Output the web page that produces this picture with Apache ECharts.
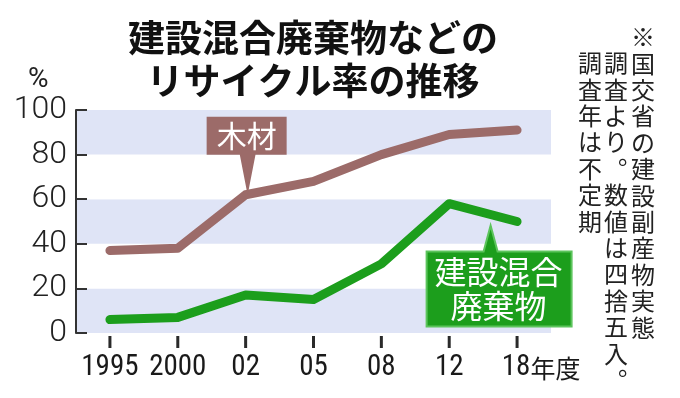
<!DOCTYPE html>
<html>
<head>
<meta charset="utf-8">
<script src="https://cdn.jsdelivr.net/npm/echarts@6/dist/echarts.min.js"></script>
<style>
  html, body { margin: 0; padding: 0; background: #fff; }
  #main { width: 680px; height: 398px; }
</style>
</head>
<body>
<div id="main"></div>
<script>
// 調査年度
const years = ['1995', '2000', '02', '05', '08', '12', '18'];
// リサイクル率 (%)
const wood = [37, 38, 62, 68, 80, 89, 91];
const mixed = [6, 7, 17, 15, 31, 58, 50];
const yTicks = [0, 20, 40, 60, 80, 100];

const titleText = '建設混合廃棄物などの\nリサイクル率の推移';
const noteCols = ['※国交省の建設副産物実態', '調査より。数値は四捨五入。', '調査年は不定期'];

const WOOD = '#9c6b69';
const GREEN = '#1c9e1c';
const jp = '"Noto Sans CJK JP", sans-serif';
const narrow = '"Liberation Sans Narrow", "Roboto Condensed", "DejaVu Sans Condensed", Roboto, sans-serif';

const chart = echarts.init(document.getElementById('main'));

chart.setOption({
    animation: false,
    backgroundColor: '#fff',
    title: {
        text: titleText,
        left: 308,
        top: 11,
        textAlign: 'center',
        textStyle: {fontFamily: jp, fontSize: 37, fontWeight: 'bold', color: '#111', lineHeight: 43}
    },
    grid: {left: 76, right: 129, top: 110, bottom: 65, outerBoundsMode: 'none', containLabel: false},
    xAxis: {
        type: 'category',
        data: years,
        boundaryGap: true,
        axisLine: {show: false},
        axisTick: {show: false},
        axisLabel: {
            interval: 0,
            hideOverlap: false,
            margin: 20,
            fontFamily: narrow,
            fontSize: 29,
            color: '#1a1a1a',
            formatter: (v, i) => i === years.length - 1 ? '{sp|}' + v + '{u|年度}' : v,
            rich: {
                sp: {width: 48},
                u: {fontFamily: jp, fontSize: 25, color: '#1a1a1a', padding: [2, 0, 0, 0]}
            }
        }
    },
    yAxis: {
        type: 'value',
        min: yTicks[0],
        max: yTicks[yTicks.length - 1],
        interval: 20,
        axisLine: {show: true, lineStyle: {color: '#333', width: 2}},
        axisTick: {show: true, inside: true, length: 11, lineStyle: {color: '#333', width: 2}},
        splitLine: {show: false},
        splitArea: {show: true, areaStyle: {color: ['#dfe4f6', '#ffffff']}},
        axisLabel: {margin: 9, fontFamily: 'Roboto, sans-serif', fontWeight: 300, fontSize: 32, color: '#222'}
    },
    series: [
        {
            name: '木材', type: 'line', data: wood, symbol: 'none',
            lineStyle: {color: WOOD, width: 9, cap: 'round', join: 'round'}
        },
        {
            name: '建設混合廃棄物', type: 'line', data: mixed, symbol: 'none',
            lineStyle: {color: GREEN, width: 9, cap: 'round', join: 'round'}
        }
    ]
});

// 吹き出しラベルと注記
function callout(tipX, tipY, x0, x1, y0, y1, up, fill, stroke) {
    const w = 7;
    const pts = up
        ? [[x0, y0], [tipX - w, y0], [tipX, tipY], [tipX + w, y0], [x1, y0], [x1, y1], [x0, y1]]
        : [[x0, y0], [x1, y0], [x1, y1], [tipX + w, y1], [tipX, tipY], [tipX - w, y1], [x0, y1]];
    return {type: 'polygon', shape: {points: pts}, style: {fill: fill, stroke: stroke, lineWidth: 2}, z: 10};
}

function drawNotes() {
    const p2 = chart.convertToPixel({seriesIndex: 0}, [2, wood[2]]);
    const p5 = chart.convertToPixel({seriesIndex: 1}, [5, mixed[5]]);
    const p6 = chart.convertToPixel({seriesIndex: 1}, [6, mixed[6]]);
    const gx = p5[0] + 0.61 * (p6[0] - p5[0]);
    const gy = p5[1] + 0.61 * (p6[1] - p5[1]) + 11;

    const woodTip = [p2[0] + 2, p2[1] - 5];
    const elements = [
        {type: 'text', left: 28, top: 66, style: {text: '%', fontFamily: 'Roboto, sans-serif', fontSize: 28, fill: '#222'}},
        callout(woodTip[0], woodTip[1], woodTip[0] - 40, woodTip[0] + 38, woodTip[1] - 72, woodTip[1] - 36, false, WOOD, WOOD),
        {type: 'text', x: woodTip[0] - 1, y: woodTip[1] - 54, z: 11,
            style: {text: '木材', fontFamily: jp, fontSize: 30, fill: '#fff', align: 'center', verticalAlign: 'middle'}},
        callout(gx, gy, gx - 64, gx + 81, gy + 26, gy + 101, true, GREEN, '#5cc45c'),
        {type: 'text', x: gx + 8, y: gy + 63, z: 11,
            style: {text: '建設混合\n廃棄物', fontFamily: jp, fontSize: 32, lineHeight: 34, fill: '#fff', align: 'center', verticalAlign: 'middle'}}
    ];
    // 年度の目盛り: 軸の下に少し離した短い縦線
    years.forEach((y, i) => {
        const p = chart.convertToPixel({seriesIndex: 0}, [i, 0]);
        elements.push({
            type: 'rect', z: 20,
            shape: {x: p[0] - 1.5, y: p[1] + 3, width: 3, height: 12},
            style: {fill: '#2a2a2a'}
        });
    });
    // 縦書きの注記: 一文字ずつ並べる(句点は右上へ寄せる)
    const colX = [643, 616, 590];
    const colTop = [25, 51, 51];
    const step = 26.4;
    noteCols.forEach((s, i) => {
        s.split('').forEach((ch, j) => {
            const punct = ch === '。';
            elements.push({
                type: 'text',
                x: colX[i] + (punct ? 14 : 0),
                y: colTop[i] + j * step + (punct ? -14 : 0),
                style: {text: ch, fontFamily: jp, fontSize: 24, fill: '#222', align: 'center', verticalAlign: 'top'}
            });
        });
    });
    chart.setOption({graphic: elements});
}
drawNotes();
</script>
</body>
</html>
